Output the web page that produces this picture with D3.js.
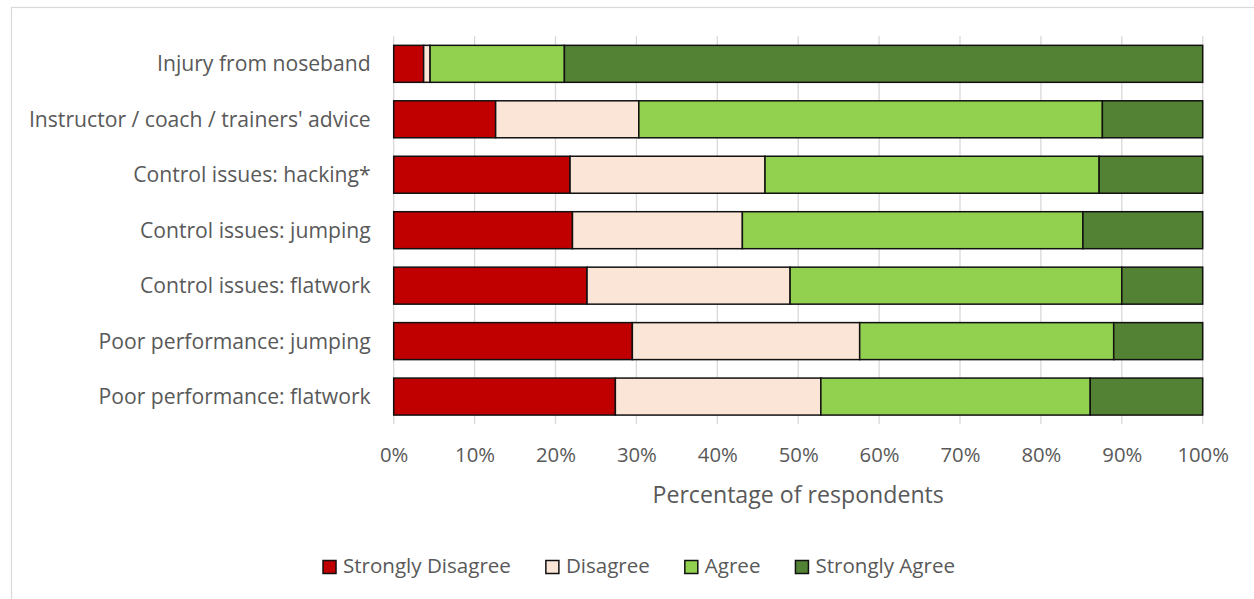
<!DOCTYPE html>
<html>
<head>
<meta charset="utf-8">
<script src="https://cdn.jsdelivr.net/npm/d3@7"></script>
<style>
  html, body { margin: 0; padding: 0; background: #fff; }
  svg { display: block; }
  text { font-family: "Open Sans", "Noto Sans", sans-serif; fill: #595959; }
</style>
</head>
<body>
<svg id="chart" width="1254" height="599"></svg>
<script>
// Reasons given for noseband tightness – share of respondents per answer (%)
const categories = [
  "Injury from noseband",
  "Instructor / coach / trainers' advice",
  "Control issues: hacking*",
  "Control issues: jumping",
  "Control issues: flatwork",
  "Poor performance: jumping",
  "Poor performance: flatwork"
];
const stronglyDisagree = [3.7, 12.6, 21.8, 22.1, 23.9, 29.5, 27.4];
const disagree         = [0.8, 17.7, 24.1, 21.0, 25.1, 28.1, 25.4];
const agree            = [16.6, 57.3, 41.3, 42.1, 41.0, 31.4, 33.3];
const stronglyAgree    = [78.9, 12.4, 12.8, 14.8, 10.0, 11.0, 13.9];

const seriesNames  = ["Strongly Disagree", "Disagree", "Agree", "Strongly Agree"];
const seriesColors = ["#c00000", "#fbe5d6", "#92d050", "#548235"];
const tickValues   = [0, 10, 20, 30, 40, 50, 60, 70, 80, 90, 100];
const axisTitle    = "Percentage of respondents";

const rows = categories.map((c, i) => ({
  category: c,
  "Strongly Disagree": stronglyDisagree[i],
  "Disagree": disagree[i],
  "Agree": agree[i],
  "Strongly Agree": stronglyAgree[i]
}));

const svg = d3.select("#chart");

// outer chart frame
svg.append("rect")
  .attr("x", 11.5).attr("y", 7.5)
  .attr("width", 1260).attr("height", 620)
  .attr("fill", "none").attr("stroke", "#d9d9d9").attr("stroke-width", 1.2);

const plot = { left: 393.7, right: 1202.7, top: 36.1, bottom: 424.3 };

const x = d3.scaleLinear().domain([0, 100]).range([plot.left, plot.right]);
const y = d3.scaleBand()
  .domain(categories)
  .range([plot.top, plot.bottom])
  .paddingInner(0.333)
  .paddingOuter(0.1665);

// fit a font size so that a reference string spans the given width
function fitSize(sample, width, base) {
  const t = svg.append("text").attr("font-size", base).text(sample);
  const w = t.node().getComputedTextLength();
  t.remove();
  return base * width / w;
}
const catSize    = fitSize("Instructor / coach / trainers' advice", 342, 20);
const tickSize   = fitSize("10%", 40, 20);
const titleSize  = fitSize(axisTitle, 291.6, 20);
const legendSize = fitSize("Strongly Disagree", 168, 20);

// vertical gridlines (extending slightly below the plot as tick marks)
svg.append("g")
  .selectAll("line")
  .data(tickValues)
  .join("line")
  .attr("x1", d => x(d)).attr("x2", d => x(d))
  .attr("y1", plot.top).attr("y2", plot.bottom)
  .attr("stroke", "#d9d9d9").attr("stroke-width", 1.3);

// stacked bars
const stack = d3.stack().keys(seriesNames);
const stacked = stack(rows);

svg.append("g")
  .selectAll("g")
  .data(stacked)
  .join("g")
  .attr("fill", (d, i) => seriesColors[i])
  .selectAll("rect")
  .data(d => d)
  .join("rect")
  .attr("x", d => x(d[0]))
  .attr("y", d => y(d.data.category))
  .attr("width", d => x(d[1]) - x(d[0]))
  .attr("height", y.bandwidth())
  .attr("stroke", "#111")
  .attr("stroke-width", 1.5);

// category labels
const yAxis = d3.axisLeft(y).tickSize(0).tickPadding(23);
const gy = svg.append("g").attr("transform", `translate(${plot.left},0)`).call(yAxis);
gy.select(".domain").remove();
gy.selectAll("text")
  .attr("font-size", catSize)
  .attr("font-family", '"Open Sans", sans-serif')
  .attr("fill", "#595959")
  .attr("dy", "0.36em");

// percentage tick labels
const xAxis = d3.axisBottom(x).tickValues(tickValues).tickSize(0).tickPadding(0)
  .tickFormat(d => d + "%");
const gx = svg.append("g").attr("transform", `translate(0,${plot.bottom})`).call(xAxis);
gx.select(".domain").remove();
gx.selectAll("text")
  .attr("font-size", tickSize)
  .attr("font-family", '"Open Sans", sans-serif')
  .attr("fill", "#595959")
  .attr("y", 38).attr("dy", 0);

// axis title
svg.append("text")
  .attr("x", (plot.left + plot.right) / 2)
  .attr("y", 503)
  .attr("text-anchor", "middle")
  .attr("font-size", titleSize)
  .text(axisTitle);

// legend
const legend = svg.append("g");
const sq = 13, gapText = 7, gapItem = 35;
let cursor = 0;
seriesNames.forEach((name, i) => {
  const g = legend.append("g");
  g.append("rect")
    .attr("x", 0).attr("y", -12.5)
    .attr("width", sq).attr("height", sq)
    .attr("fill", seriesColors[i])
    .attr("stroke", "#111").attr("stroke-width", 1.5);
  const t = g.append("text")
    .attr("x", sq + gapText).attr("y", 0)
    .attr("font-size", legendSize)
    .text(name);
  const w = sq + gapText + t.node().getComputedTextLength();
  g.attr("transform", `translate(${cursor},0)`);
  cursor += w + gapItem;
});
const total = cursor - gapItem;
legend.attr("transform", `translate(${639 - total / 2},573)`);
</script>
</body>
</html>
